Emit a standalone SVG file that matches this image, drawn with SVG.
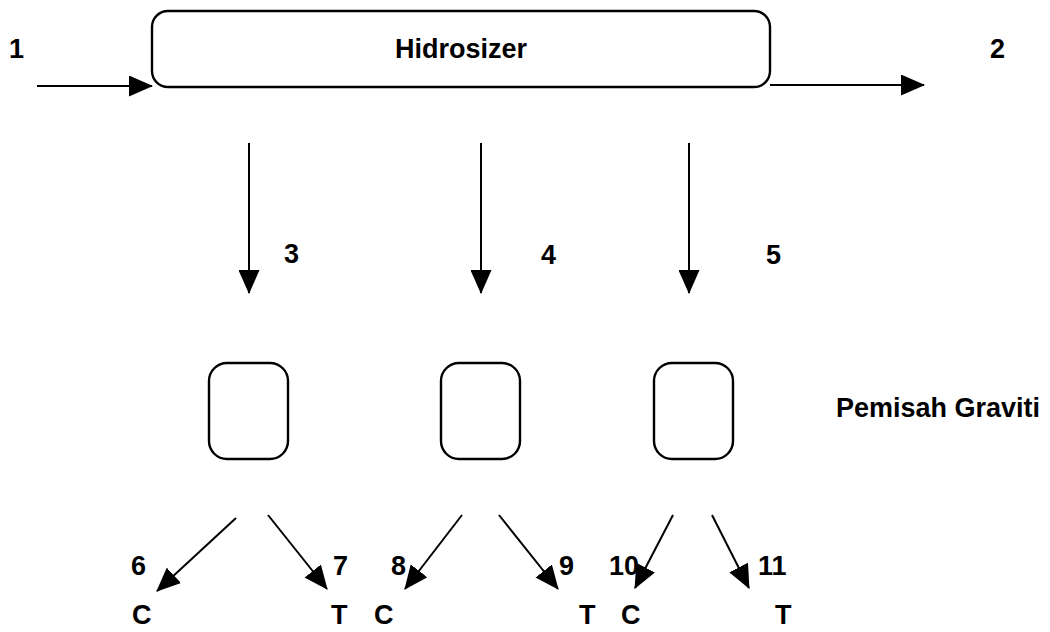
<svg xmlns="http://www.w3.org/2000/svg" width="1050" height="632" viewBox="0 0 1050 632">
  <style>
    .box { fill: none; stroke: #000; stroke-width: 2.4; }
    .conn { fill: none; stroke: #000; stroke-width: 2; marker-end: url(#arr); }
    .lbl { font-family: "Liberation Sans", Arial, sans-serif; font-size: 27px; font-weight: bold; fill: #000; }
  </style>
  <defs>
    <marker id="arr" markerUnits="userSpaceOnUse" viewBox="0 0 24 21" markerWidth="24" markerHeight="21" refX="23" refY="10.5" orient="auto">
      <path d="M0,0 L24,10.5 L0,21 z" fill="#000"/>
    </marker>
  </defs>
  <rect width="1050" height="632" fill="#fff"/>

  <g id="connectors">
    <line class="conn" x1="37" y1="86" x2="152" y2="86"/>
    <line class="conn" x1="770" y1="85" x2="924" y2="85"/>
    <line class="conn" x1="249" y1="143" x2="249" y2="293"/>
    <line class="conn" x1="481" y1="143" x2="481" y2="293"/>
    <line class="conn" x1="689" y1="143" x2="689" y2="293"/>
    <line class="conn" x1="236" y1="518" x2="157" y2="591"/>
    <line class="conn" x1="268" y1="515" x2="327" y2="589"/>
    <line class="conn" x1="462" y1="515" x2="405" y2="589"/>
    <line class="conn" x1="499" y1="515" x2="558" y2="589"/>
    <line class="conn" x1="673" y1="515" x2="635" y2="588"/>
    <line class="conn" x1="712" y1="515" x2="749" y2="588"/>
  </g>

  <g id="hidrosizer">
    <rect class="box" x="152" y="11" width="618" height="76" rx="16"/>
    <text class="lbl" x="395" y="58">Hidrosizer</text>
  </g>
  <g id="separator1">
    <rect class="box" x="209" y="363" width="79" height="96" rx="18"/>
  </g>
  <g id="separator2">
    <rect class="box" x="441" y="363" width="79" height="96" rx="18"/>
  </g>
  <g id="separator3">
    <rect class="box" x="654" y="363" width="79" height="96" rx="18"/>
  </g>
  <g id="label-pemisah">
    <text class="lbl" x="836" y="417">Pemisah Graviti</text>
  </g>

  <g id="labels">
    <text class="lbl" x="9" y="58">1</text>
    <text class="lbl" x="990" y="58">2</text>
    <text class="lbl" x="284" y="263">3</text>
    <text class="lbl" x="541" y="264">4</text>
    <text class="lbl" x="766" y="264">5</text>
    <text class="lbl" x="131" y="575">6</text>
    <text class="lbl" x="333" y="575">7</text>
    <text class="lbl" x="391" y="575">8</text>
    <text class="lbl" x="559" y="575">9</text>
    <text class="lbl" x="609" y="575">10</text>
    <text class="lbl" x="758" y="575">11</text>
    <text class="lbl" x="132" y="624">C</text>
    <text class="lbl" x="331" y="624">T</text>
    <text class="lbl" x="374" y="624">C</text>
    <text class="lbl" x="579" y="624">T</text>
    <text class="lbl" x="621" y="624">C</text>
    <text class="lbl" x="775" y="624">T</text>
  </g>
</svg>
